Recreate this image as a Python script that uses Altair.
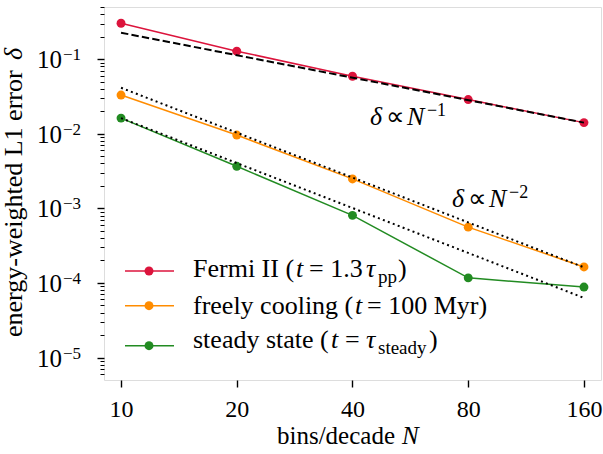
import altair as alt
import pandas as pd

# ---------------------------------------------------------------- data
bins_per_decade = [10, 20, 40, 80, 160]
err_fermi = [0.303, 0.128, 0.059, 0.0287, 0.0141]
err_cooling = [0.033, 0.0096, 0.00248, 0.00056, 0.000164]
err_steady = [0.0162, 0.00366, 0.000805, 0.000117, 0.000088]

series_names = ["Fermi II", "freely cooling", "steady state"]
series_colors = ["#dc143c", "#ff8c00", "#228b22"]

# power-law guides, given by their end points
guide_n = [10, 160]
guide_inv1 = [0.226, 0.0141]
guide_inv2_upper = [0.0413, 0.000162]
guide_inv2_lower = [0.0162, 0.000063]

x_ticks = [10, 20, 40, 80, 160]
decade_exponents = [-5, -4, -3, -2, -1]

# ---------------------------------------------------------------- tables
rows = []
for name, vals in zip(series_names, [err_fermi, err_cooling, err_steady]):
    for n, v in zip(bins_per_decade, vals):
        rows.append({"series": name, "N": n, "delta": v})
data = pd.DataFrame(rows)

guide_rows = []
for name, vals in [("inv1", guide_inv1), ("inv2_upper", guide_inv2_upper),
                   ("inv2_lower", guide_inv2_lower)]:
    for n, v in zip(guide_n, vals):
        guide_rows.append({"guide": name, "N": n, "delta": v})
guides = pd.DataFrame(guide_rows)

major_vals = [10.0 ** e for e in decade_exponents]
minor_vals = []
for e in range(-6, 0):
    for m in range(2, 10):
        v = m * 10.0 ** e
        if 5e-6 <= v <= 0.5:
            minor_vals.append(v)
decades = pd.DataFrame({"delta": major_vals,
                        "exp": ["\u2212%d" % (-e) for e in decade_exponents]})

# ---------------------------------------------------------------- style
SERIF = "Liberation Serif"
FS = 26
W, H = 497, 373

xs = alt.Scale(type="log", base=2, domain=[9.03, 177.2], nice=False)
ys = alt.Scale(type="log", domain=[5e-6, 0.5], nice=False)

major_test = "abs(log(datum.value)/LN10 - round(log(datum.value)/LN10)) < 0.001"

x_axis = alt.Axis(values=x_ticks, format="d", title=None, grid=False, domain=False,
                  tickSize=7, tickWidth=1.4, tickColor="black",
                  labelFont=SERIF, labelFontSize=24, labelColor="black",
                  labelBaseline="alphabetic", labelPadding=29.5, labelFlush=False)
y_axis = alt.Axis(values=major_vals + minor_vals, labels=False, title=None,
                  grid=False, domain=False, tickColor="black",
                  tickSize={"condition": {"test": major_test, "value": 7}, "value": 4},
                  tickWidth={"condition": {"test": major_test, "value": 1.4}, "value": 1.0})

X = alt.X("N:Q", scale=xs, axis=x_axis)
Y = alt.Y("delta:Q", scale=ys, axis=y_axis)
color = alt.Color("series:N", scale=alt.Scale(domain=series_names, range=series_colors),
                  legend=None)

base = alt.Chart(data)
lines = base.mark_line(strokeWidth=1.5).encode(x=X, y=Y, color=color, detail="series:N")
points = base.mark_circle(size=80, opacity=1).encode(x=X, y=Y, color=color)

dashed = alt.Chart(guides).transform_filter(alt.datum.guide == "inv1").mark_line(
    color="black", strokeWidth=2, strokeDash=[7.4, 3.2]).encode(x=X, y=Y)
dotted = alt.Chart(guides).transform_filter(alt.datum.guide != "inv1").mark_line(
    color="black", strokeWidth=2, strokeDash=[2, 3.3], strokeCap="butt").encode(
    x=X, y=Y, detail="guide:N")

# decade labels 10^k on the left axis
dec = alt.Chart(decades)
dec_base = dec.mark_text(align="right", baseline="alphabetic", dy=9, font=SERIF,
                         fontSize=25, color="black").encode(
    x=alt.value(-42), y=Y, text=alt.value("10"))
dec_exp = dec.mark_text(align="left", baseline="alphabetic", dy=1, font=SERIF,
                        fontSize=17, color="black").encode(
    x=alt.value(-41), y=Y, text="exp:N")

one = pd.DataFrame({"k": [0]})


def txt(s, x, y, italic=False, size=FS, angle=0, dy=0):
    props = dict(align="left", baseline="alphabetic", font=SERIF, fontSize=size,
                 color="black", dy=dy)
    if italic:
        props["fontStyle"] = "italic"
    if angle:
        props["angle"] = angle
    return alt.Chart(one).mark_text(**props).encode(
        x=alt.value(x), y=alt.value(y), text=alt.value(s))


def anchored(s, n, d, dx, italic=False, size=FS, dy=0):
    props = dict(align="left", baseline="alphabetic", font=SERIF, fontSize=size,
                 color="black", dx=dx, dy=dy)
    if italic:
        props["fontStyle"] = "italic"
    return alt.Chart(pd.DataFrame({"N": [n], "delta": [d]})).mark_text(**props).encode(
        x=X, y=Y, text=alt.value(s))


def scaling_label(n, d, power):
    return [
        anchored("\u03b4", n, d, 0, italic=True),
        anchored("\u221d", n, d, 16),
        anchored("N", n, d, 37, italic=True),
        anchored("\u2212%d" % power, n, d, 57, size=18, dy=-9),
    ]


annotations = scaling_label(44.4, 0.0131, 1) + scaling_label(72.6, 0.00104, 2)

# axis titles
titles = [
    txt("bins/decade", 173, 437, size=25),
    txt("N", 298, 437, italic=True, size=25),
    txt("energy-weighted L1 error", -82, 330, angle=270),
    txt("\u03b4", -82, 53, italic=True, angle=270),
]


# legend
def legend_row(col, y_sym, y_base, segments):
    out = [
        alt.Chart(one).mark_rule(color=col, strokeWidth=1.5).encode(
            x=alt.value(21), x2=alt.value(70), y=alt.value(y_sym)),
        alt.Chart(one).mark_circle(color=col, size=80, opacity=1).encode(
            x=alt.value(45), y=alt.value(y_sym)),
    ]
    for s, x, kind in segments:
        if kind == "sub":
            out.append(txt(s, x - 104, y_base, size=19, dy=6))
        else:
            out.append(txt(s, x - 104, y_base, italic=(kind == "it")))
    return out


legend = (
    legend_row(series_colors[0], 264, 270, [
        ("Fermi II (", 193, "n"), ("t", 296, "it"), ("= 1.3", 309, "n"),
        ("\u03c4", 366, "it"), ("pp", 378, "sub"), (")", 398, "n")])
    + legend_row(series_colors[1], 298.7, 307, [
        ("freely cooling (", 193, "n"), ("t", 355, "it"), ("= 100 Myr)", 367, "n")])
    + legend_row(series_colors[2], 338.7, 341, [
        ("steady state (", 193, "n"), ("t", 331, "it"), ("=", 345, "n"),
        ("\u03c4", 366, "it"), ("steady", 378, "sub"), (")", 429, "n")])
)

chart = alt.layer(
    lines, points, dashed, dotted, dec_base, dec_exp, *annotations, *titles, *legend
).properties(
    width=W, height=H,
    padding={"left": 104, "top": 7, "right": 2, "bottom": 74},
    autosize=alt.AutoSizeParams(type="none"),
).configure_view(stroke="black", strokeWidth=1.6).configure(background="white")

chart.save("out.html", embed_options={"renderer": "svg", "actions": False})
